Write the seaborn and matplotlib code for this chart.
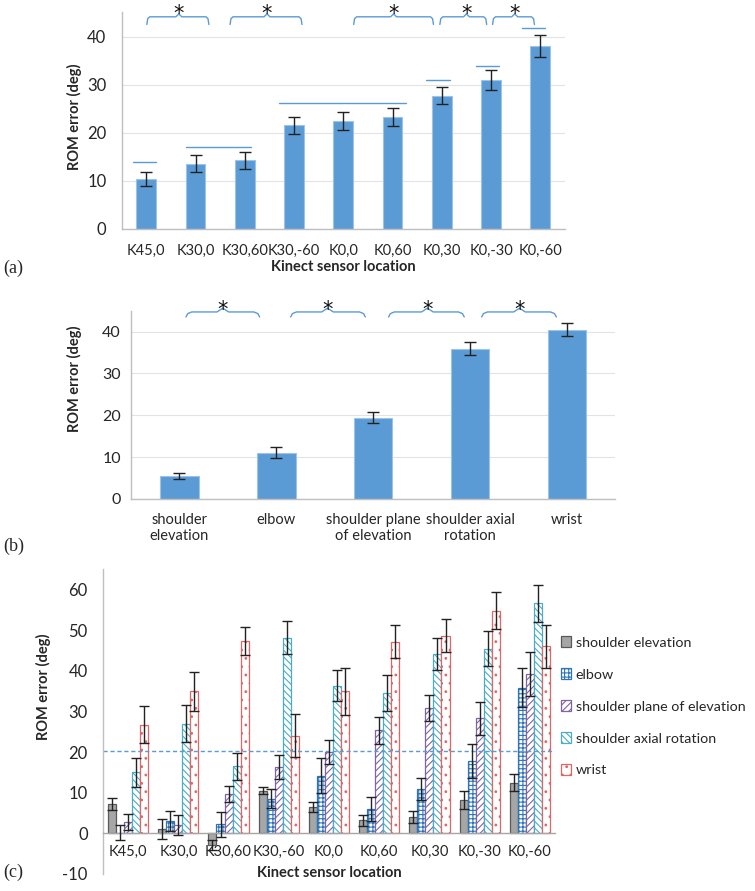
import numpy as np
import pandas as pd
import matplotlib
matplotlib.use('Agg')
import matplotlib.pyplot as plt
from matplotlib.patches import Patch
import seaborn as sns

# ---- data ----
locations = ['K45,0', 'K30,0', 'K30,60', 'K30,-60', 'K0,0', 'K0,60', 'K0,30', 'K0,-30', 'K0,-60']
a_mean = [10.3, 13.5, 14.2, 21.5, 22.4, 23.2, 27.7, 30.9, 38.1]
a_err = [1.4, 1.8, 1.7, 1.8, 1.9, 1.85, 1.85, 2.05, 2.3]
# horizontal "no difference" lines (from, to, level) and brackets (from, to, peak)
a_lines = [(-0.28, 0.19, 13.8), (0.8, 2.12, 17.1), (2.69, 5.28, 26.1),
           (5.67, 6.16, 30.9), (6.69, 7.16, 33.9), (7.62, 8.09, 41.7)]
a_brackets = [(0.01, 1.27, 0.66), (1.70, 3.16, 2.45), (4.21, 5.83, 5.02),
              (5.96, 6.91, 6.5), (7.03, 7.88, 7.48)]

joints = ['shoulder elevation', 'elbow', 'shoulder plane of elevation',
          'shoulder axial rotation', 'wrist']
b_labels = ['shoulder\nelevation', 'elbow', 'shoulder plane\nof elevation',
            'shoulder axial\nrotation', 'wrist']
b_mean = [5.5, 11.0, 19.4, 35.9, 40.5]
b_err = [0.65, 1.3, 1.3, 1.6, 1.65]
b_brackets = [(0.07, 0.83, 0.45), (1.15, 1.92, 1.53), (2.16, 2.94, 2.56), (3.12, 3.89, 3.51)]

c_sh_elev = [7.2, 1.0, -2.8, 10.5, 6.5, 3.2, 4.1, 8.3, 12.5]
c_sh_elev_err = [1.5, 2.5, 1.2, 0.8, 1.3, 1.4, 1.5, 2.2, 2.1]
c_elbow = [0.2, 3.0, 2.2, 8.5, 14.2, 6.0, 10.9, 17.8, 35.9]
c_elbow_err = [1.8, 2.5, 3.0, 2.3, 4.3, 2.9, 2.7, 4.1, 4.8]
c_plane = [2.8, 2.0, 9.7, 16.3, 20.0, 25.4, 30.9, 28.3, 39.3]
c_plane_err = [2.0, 2.5, 2.0, 3.0, 3.0, 3.3, 3.2, 4.1, 5.4]
c_axial = [15.0, 27.0, 16.5, 48.2, 36.3, 34.6, 44.1, 45.5, 56.6]
c_axial_err = [3.5, 4.6, 3.3, 4.0, 3.8, 4.4, 4.0, 4.3, 4.5]
c_wrist = [26.8, 35.0, 47.3, 24.0, 35.0, 47.2, 48.7, 54.8, 46.1]
c_wrist_err = [4.6, 4.8, 3.5, 5.3, 5.8, 4.1, 4.1, 4.6, 5.3]
c_threshold = 20.3

# ---- style ----
sns.set_style('white')
plt.rcParams['font.family'] = ['Lato', 'DejaVu Sans']
plt.rcParams['hatch.linewidth'] = 0.8
plt.rcParams['axes.unicode_minus'] = False
BLUE = '#5b9bd5'
SPINE = '#bfbfbf'
TXT = '#262626'

fig = plt.figure(figsize=(7.55, 8.91), dpi=100)
ax_a = fig.add_axes([0.1612, 0.7433, 0.5871, 0.2427])
ax_b = fig.add_axes([0.1731, 0.4400, 0.6421, 0.2113])
ax_c = fig.add_axes([0.1364, 0.0191, 0.5987, 0.3419])


def style_axes(ax, n, ylim, yticks, grid=True):
    ax.set_ylim(*ylim)
    ax.set_xlim(-0.5, n - 0.5)
    ax.set_yticks(yticks)
    for s in ['top', 'right']:
        ax.spines[s].set_visible(False)
    for s in ['left', 'bottom']:
        ax.spines[s].set_color(SPINE)
        ax.spines[s].set_linewidth(1.0)
    ax.tick_params(axis='y', length=5, color=SPINE, labelsize=12, labelcolor=TXT, pad=6)
    if grid:
        ax.yaxis.grid(True, color='#e3e3e3', linewidth=0.8)
        ax.set_axisbelow(True)


def bracket(ax, x0, x1, xm, yb, yt, yp, ystar):
    d = 0.06
    xs = [x0, x0 + d * 0.3, x0 + d, xm - d, xm, xm + d, x1 - d, x1 - d * 0.3, x1]
    ys = [yb, yt - 0.4, yt, yt, yp, yt, yt, yt - 0.4, yb]
    ax.plot(xs, ys, color=BLUE, lw=1.0, clip_on=False)
    ax.text(xm, ystar, '*', ha='center', va='baseline', fontsize=15, color='#111111',
            family='DejaVu Sans', clip_on=False)


def boundary_ticks(ax, n):
    ax.set_xticks(np.arange(-0.5, n, 1.0), minor=True)
    ax.tick_params(axis='x', which='minor', length=5, color=SPINE, width=1.0)
    ax.tick_params(axis='x', which='major', length=0)


# ---- (a) ----
sns.barplot(x=locations, y=a_mean, color=BLUE, width=0.4, saturation=1,
            edgecolor='#9dc3e6', linewidth=0.8, ax=ax_a)
xa = [p.get_x() + p.get_width() / 2 for p in ax_a.patches]
ax_a.errorbar(xa, a_mean, yerr=a_err, fmt='none', ecolor='#222222', elinewidth=1.0,
              capsize=4.5, capthick=1.0)
style_axes(ax_a, len(locations), (0, 45), [0, 10, 20, 30, 40])
boundary_ticks(ax_a, len(locations))
ax_a.tick_params(axis='x', which='major', labelsize=10.5, labelcolor=TXT, pad=11)
for x0, x1, y in a_lines:
    ax_a.plot([x0, x1], [y, y], color=BLUE, lw=1.0, clip_on=False)
for x0, x1, xm in a_brackets:
    bracket(ax_a, x0, x1, xm, 42.5, 44.1, 44.7, 43.4)
ax_a.set_ylabel('ROM error (deg)', fontsize=10.5, fontweight='bold', color=TXT)
ax_a.yaxis.set_label_coords(-0.09, 0.52)
ax_a.set_xlabel('Kinect sensor location', fontsize=10.5, fontweight='bold', color=TXT)
ax_a.xaxis.set_label_coords(0.5, -0.145)
fig.text(0.004, 1 - 268 / 891, '(a)', family='Liberation Serif', fontsize=13, va='center')

# ---- (b) ----
sns.barplot(x=joints, y=b_mean, color=BLUE, width=0.4, saturation=1,
            edgecolor='#9dc3e6', linewidth=0.8, ax=ax_b)
xb = [p.get_x() + p.get_width() / 2 for p in ax_b.patches]
ax_b.errorbar(xb, b_mean, yerr=b_err, fmt='none', ecolor='#222222', elinewidth=1.0,
              capsize=4.5, capthick=1.0)
style_axes(ax_b, len(joints), (0, 45), [0, 10, 20, 30, 40])
ax_b.tick_params(axis='y', pad=2, labelsize=11.5)
boundary_ticks(ax_b, len(joints))
ax_b.set_xticks(range(len(joints)))
ax_b.set_xticklabels(b_labels)
ax_b.tick_params(axis='x', which='major', labelsize=10.5, labelcolor=TXT, pad=10)
for x0, x1, xm in b_brackets:
    bracket(ax_b, x0, x1, xm, 43.5, 44.7, 45.6, 43.7)
ax_b.set_ylabel('ROM error (deg)', fontsize=10.5, fontweight='bold', color=TXT)
ax_b.yaxis.set_label_coords(-0.1, 0.64)
ax_b.set_xlabel('')
fig.text(0.004, 1 - 546 / 891, '(b)', family='Liberation Serif', fontsize=13, va='center')

# ---- (c) ----
c_vals = [c_sh_elev, c_elbow, c_plane, c_axial, c_wrist]
c_errs = [c_sh_elev_err, c_elbow_err, c_plane_err, c_axial_err, c_wrist_err]
df = pd.DataFrame({
    'location': locations * len(joints),
    'joint': np.repeat(joints, len(locations)),
    'value': np.concatenate(c_vals),
})
faces = ['#a6a6a6', 'white', 'white', 'white', 'white']
edges = ['#595959', '#2e75b6', '#8064a2', '#4bacc6', '#e06666']
hatches = [None, '++++', '/////', '\\\\\\\\\\', '..']
sns.barplot(data=df, x='location', y='value', hue='joint', hue_order=joints,
            palette=faces, width=0.8, errorbar=None, saturation=1, legend=False, ax=ax_c)
for cont, fc, ec, h, err, vals in zip(ax_c.containers, faces, edges, hatches, c_errs, c_vals):
    for p in cont.patches:
        p.set_facecolor(fc)
        p.set_edgecolor(ec)
        p.set_linewidth(0.9)
        if h:
            p.set_hatch(h)
    xc = [p.get_x() + p.get_width() / 2 for p in cont.patches]
    ax_c.errorbar(xc, vals, yerr=err, fmt='none', ecolor='#222222', elinewidth=1.0,
                  capsize=3.5, capthick=1.0, zorder=5)
style_axes(ax_c, len(locations), (-10, 65), [-10, 0, 10, 20, 30, 40, 50, 60], grid=False)
ax_c.spines['bottom'].set_position(('data', 0))
ax_c.spines['bottom'].set_color('#a6a6a6')
ax_c.tick_params(axis='x', length=0, labelsize=10.5, labelcolor=TXT, pad=8)
ax_c.axhline(c_threshold, color=BLUE, lw=1.0, ls=(0, (3, 2)))
ax_c.set_ylabel('ROM error (deg)', fontsize=10.5, fontweight='bold', color=TXT)
ax_c.yaxis.set_label_coords(-0.115, 0.615)
ax_c.set_xlabel('Kinect sensor location', fontsize=10.5, fontweight='bold', color=TXT)
ax_c.xaxis.set_label_coords(0.5, 0.025)
handles = [Patch(facecolor=fc, edgecolor=ec, hatch=h, linewidth=0.9, label=j)
           for fc, ec, h, j in zip(faces, edges, hatches, joints)]
ax_c.legend(handles=handles, loc='center left', bbox_to_anchor=(1.0, 0.55), frameon=False,
            fontsize=10.3, labelspacing=1.38, handlelength=0.75, handleheight=0.75,
            handletextpad=0.3, borderpad=0, borderaxespad=0.4, labelcolor=TXT)
fig.text(0.004, 1 - 872 / 891, '(c)', family='Liberation Serif', fontsize=13, va='center')

fig.savefig('out.png', dpi=100)
